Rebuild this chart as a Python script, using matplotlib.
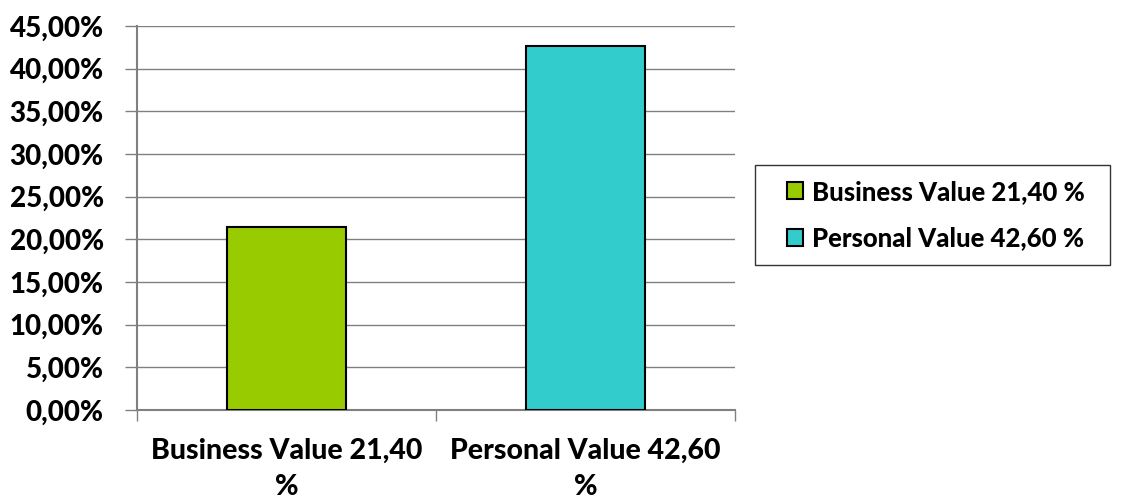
import matplotlib.pyplot as plt
from matplotlib.patches import Patch, Rectangle
from matplotlib.ticker import FuncFormatter, FixedLocator

# Data
categories = ["Business Value 21,40\n%", "Personal Value 42,60\n%"]
legend_labels = ["Business Value 21,40 %", "Personal Value 42,60 %"]
values = [21.40, 42.60]
colors = ["#99CC00", "#33CCCC"]
y_ticks = [0, 5, 10, 15, 20, 25, 30, 35, 40, 45]

FONT = ['Lato', 'DejaVu Sans']
WEIGHT = 'black'
plt.rcParams['font.family'] = FONT
plt.rcParams['font.weight'] = WEIGHT

W, H = 1124, 501
fig = plt.figure(figsize=(W / 100, H / 100), dpi=100)
ax = fig.add_axes([137 / W, 1 - 410 / H, (735 - 137) / W, (410 - 26) / H])

x = list(range(len(categories)))
ax.bar(x, values, width=0.4, color=colors, edgecolor='black', linewidth=1.5, zorder=3)

ax.set_xlim(-0.5, len(categories) - 0.5)
ax.set_ylim(0, 45)
ax.set_yticks(y_ticks)
ax.yaxis.set_major_formatter(FuncFormatter(lambda v, p: f"{v:.2f}".replace('.', ',') + '%'))
ax.grid(True, axis='y', color='#808080', linewidth=1, zorder=0)

ax.set_xticks(x)
ax.set_xticklabels(categories, fontsize=20.5, fontweight=WEIGHT, linespacing=1.5)
ax.tick_params(axis='x', which='major', length=0, pad=20)
ax.xaxis.set_minor_locator(FixedLocator([-0.5, 0.5, 1.5]))
ax.tick_params(axis='x', which='minor', length=8, width=1, color='#808080', direction='out')
ax.tick_params(axis='y', length=9, width=1, color='#808080', labelsize=20, pad=15)
for t in ax.get_yticklabels():
    t.set_fontweight(WEIGHT)

for s in ['top', 'right']:
    ax.spines[s].set_visible(False)
for s in ['left', 'bottom']:
    ax.spines[s].set_color('#808080')
    ax.spines[s].set_linewidth(1.5)

# legend frame drawn separately so the entries can sit where the reference has them
fig.patches.append(Rectangle((755 / W, 1 - 265 / H), 355 / W, 100 / H,
                             transform=fig.transFigure, facecolor='white',
                             edgecolor='#333333', linewidth=1, zorder=1))
handles = [Patch(facecolor=c, edgecolor='black', linewidth=1.5) for c in colors]
leg = fig.legend(handles, legend_labels, loc='center left',
                 bbox_to_anchor=(787 / W, 1 - 215 / H),
                 frameon=False,
                 prop={'family': FONT, 'weight': WEIGHT, 'size': 18.5},
                 handlelength=0.62, handleheight=0.62, handletextpad=0.35,
                 labelspacing=0.88, borderpad=0, borderaxespad=0)
leg.set_zorder(2)

fig.savefig('out.png', dpi=100)
